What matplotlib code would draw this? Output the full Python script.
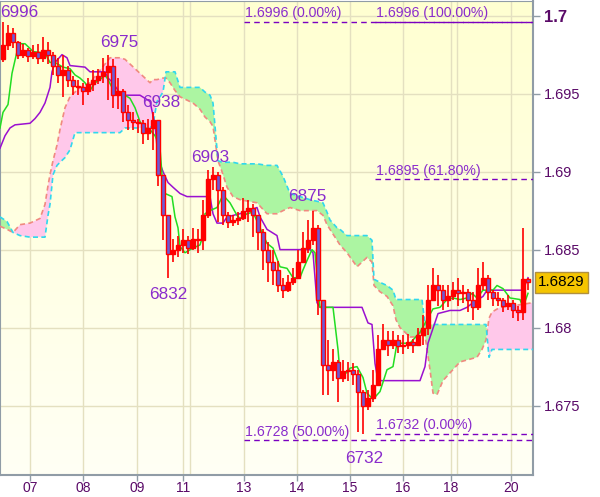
from matplotlib import pyplot as plt
from matplotlib import transforms
import numpy as np

# hourly candles, one slot every 5 px of the chart
first_open = 1.6972
closes = [1.6981, 1.6989, 1.6983, 1.6975, 1.6978, 1.6974, 1.6977, 1.6973, 1.6978, 1.6975,
	1.6968, 1.6962, 1.6965, 1.6959, 1.6955, 1.6954, 1.6952, 1.6956, 1.6959, 1.6961,
	1.6964, 1.6968, 1.6949, 1.6952, 1.6938, 1.6933, 1.6932, 1.6931, 1.6925, 1.6928,
	1.6933, 1.6898, 1.6872, 1.6847, 1.6850, 1.6853, 1.6856, 1.6851, 1.6857, 1.6856,
	1.6872, 1.6895, 1.6898, 1.6888, 1.6872, 1.6868, 1.6869, 1.6870, 1.6875, 1.6877,
	1.6872, 1.6861, 1.6850, 1.6842, 1.6837, 1.6827, 1.6824, 1.6829, 1.6832, 1.6842,
	1.6851, 1.6856, 1.6864, 1.6818, 1.6776, 1.6773, 1.6778, 1.6768, 1.6772, 1.6773,
	1.6770, 1.6759, 1.6750, 1.6755, 1.6763, 1.6786, 1.6792, 1.6789, 1.6792, 1.6788,
	1.6789, 1.6791, 1.6789, 1.6795, 1.6800, 1.6818, 1.6827, 1.6824, 1.6818, 1.6820,
	1.6824, 1.6822, 1.6823, 1.6818, 1.6813, 1.6827, 1.6832, 1.6823, 1.6819, 1.6818,
	1.6814, 1.6816, 1.6811, 1.6810, 1.6831, 1.6829]
highs = [1.6996, 1.6994, 1.6992, 1.6984, 1.6982, 1.6979, 1.6981, 1.6982, 1.6986, 1.6983,
	1.6977, 1.6973, 1.6975, 1.6968, 1.6961, 1.6959, 1.6957, 1.6960, 1.6965, 1.6966,
	1.6973, 1.6975, 1.6972, 1.6960, 1.6953, 1.6943, 1.6938, 1.6934, 1.6933, 1.6934,
	1.6938, 1.6933, 1.6898, 1.6872, 1.6857, 1.6859, 1.6863, 1.6859, 1.6864, 1.6863,
	1.6882, 1.6901, 1.6903, 1.6900, 1.6890, 1.6874, 1.6872, 1.6874, 1.6883, 1.6882,
	1.6879, 1.6872, 1.6863, 1.6855, 1.6850, 1.6843, 1.6832, 1.6834, 1.6838, 1.6850,
	1.6861, 1.6869, 1.6875, 1.6866, 1.6818, 1.6792, 1.6786, 1.6779, 1.6779, 1.6778,
	1.6777, 1.6773, 1.6760, 1.6760, 1.6773, 1.6795, 1.6802, 1.6798, 1.6798, 1.6795,
	1.6795, 1.6796, 1.6793, 1.6800, 1.6808, 1.6827, 1.6838, 1.6834, 1.6827, 1.6827,
	1.6829, 1.6832, 1.6827, 1.6825, 1.6823, 1.6838, 1.6842, 1.6834, 1.6824, 1.6823,
	1.6819, 1.6821, 1.6818, 1.6814, 1.6864, 1.6832]
lows = [1.6970, 1.6978, 1.6979, 1.6972, 1.6973, 1.6970, 1.6972, 1.6969, 1.6970, 1.6969,
	1.6962, 1.6957, 1.6948, 1.6954, 1.6949, 1.6949, 1.6943, 1.6949, 1.6952, 1.6956,
	1.6957, 1.6946, 1.6941, 1.6940, 1.6932, 1.6927, 1.6927, 1.6925, 1.6918, 1.6920,
	1.6914, 1.6891, 1.6856, 1.6832, 1.6842, 1.6845, 1.6848, 1.6847, 1.6850, 1.6848,
	1.6850, 1.6870, 1.6888, 1.6868, 1.6866, 1.6864, 1.6865, 1.6866, 1.6869, 1.6868,
	1.6858, 1.6850, 1.6837, 1.6829, 1.6827, 1.6823, 1.6819, 1.6823, 1.6827, 1.6831,
	1.6842, 1.6848, 1.6853, 1.6808, 1.6757, 1.6757, 1.6766, 1.6752, 1.6765, 1.6766,
	1.6763, 1.6733, 1.6732, 1.6747, 1.6752, 1.6763, 1.6786, 1.6782, 1.6786, 1.6784,
	1.6783, 1.6786, 1.6784, 1.6789, 1.6789, 1.6795, 1.6818, 1.6814, 1.6811, 1.6813,
	1.6818, 1.6814, 1.6816, 1.6810, 1.6805, 1.6811, 1.6824, 1.6818, 1.6814, 1.6814,
	1.6810, 1.6811, 1.6806, 1.6804, 1.6805, 1.6824]

# tenkan (green) and kijun (purple)
tenkan_x = [0, 3, 8, 12, 17, 20, 25, 30, 33, 45, 50, 55, 63, 70, 75, 80, 85, 90, 95, 100,
	105, 108, 112, 117, 125, 130, 135, 140, 145, 150, 155, 158, 160, 162, 165, 172, 175, 178, 180, 185,
	193, 200, 203, 205, 210, 217, 223, 230, 237, 240, 247, 253, 260, 267, 273, 280, 287, 293, 300, 303,
	307, 312, 315, 320, 333, 338, 340, 347, 350, 357, 363, 367, 373, 380, 387, 393, 397, 410, 420, 427,
	433, 440, 447, 453, 460, 467, 472, 477, 483, 493, 497, 503, 510, 520, 523, 528]
tenkan = [1.6928, 1.6938, 1.6943, 1.6963, 1.6977, 1.6982, 1.6982, 1.6979, 1.6977, 1.6976,
	1.6970, 1.6970, 1.6967, 1.6966, 1.6962, 1.6960, 1.6957, 1.6952, 1.6957, 1.6959,
	1.6962, 1.6959, 1.6954, 1.6951, 1.6949, 1.6947, 1.6941, 1.6932, 1.6928, 1.6927,
	1.6923, 1.6919, 1.6915, 1.6898, 1.6886, 1.6884, 1.6871, 1.6864, 1.6852, 1.6848,
	1.6851, 1.6853, 1.6859, 1.6873, 1.6875, 1.6877, 1.6885, 1.6880, 1.6872, 1.6870,
	1.6873, 1.6874, 1.6864, 1.6854, 1.6851, 1.6839, 1.6838, 1.6832, 1.6832, 1.6837,
	1.6843, 1.6850, 1.6848, 1.6813, 1.6813, 1.6786, 1.6771, 1.6771, 1.6774, 1.6775,
	1.6768, 1.6758, 1.6754, 1.6759, 1.6773, 1.6775, 1.6790, 1.6790, 1.6797, 1.6805,
	1.6812, 1.6813, 1.6818, 1.6819, 1.6818, 1.6819, 1.6822, 1.6819, 1.6824, 1.6824,
	1.6827, 1.6825, 1.6819, 1.6818, 1.6813, 1.6822]
kijun_x = [0, 5, 10, 15, 30, 35, 40, 45, 50, 52, 55, 62, 67, 70, 85, 90, 105, 108, 113, 120,
	125, 140, 145, 150, 155, 158, 163, 168, 173, 180, 187, 210, 213, 217, 223, 227, 240, 257, 260, 267,
	277, 280, 310, 313, 317, 320, 362, 368, 372, 375, 378, 420, 425, 428, 438, 450, 460, 467, 473, 483,
	487, 523, 528]
kijun = [1.6915, 1.6923, 1.6928, 1.6930, 1.6931, 1.6934, 1.6938, 1.6944, 1.6954, 1.6964,
	1.6970, 1.6975, 1.6973, 1.6968, 1.6967, 1.6964, 1.6964, 1.6960, 1.6957, 1.6950,
	1.6949, 1.6949, 1.6947, 1.6945, 1.6930, 1.6909, 1.6900, 1.6893, 1.6890, 1.6886,
	1.6884, 1.6884, 1.6873, 1.6867, 1.6867, 1.6871, 1.6873, 1.6877, 1.6871, 1.6863,
	1.6859, 1.6850, 1.6850, 1.6848, 1.6816, 1.6813, 1.6813, 1.6803, 1.6802, 1.6777,
	1.6766, 1.6766, 1.6775, 1.6790, 1.6809, 1.6811, 1.6811, 1.6813, 1.6816, 1.6820,
	1.6824, 1.6824, 1.6832]

# cloud: span a (cyan edge) and span b (salmon edge)
cloud_x = [0, 7, 13, 20, 30, 40, 45, 48, 50, 53, 57, 60, 65, 70, 75, 80, 90, 100, 110, 115,
	120, 125, 135, 145, 150, 153, 157, 163, 166, 170, 175, 180, 193, 200, 205, 210, 213, 218, 222, 227,
	233, 240, 257, 267, 277, 283, 290, 300, 310, 317, 323, 327, 330, 337, 340, 347, 357, 367, 372, 374,
	380, 387, 393, 396, 400, 410, 417, 422, 425, 430, 433, 437, 443, 450, 460, 477, 482, 486, 489, 492,
	500, 513, 533]
span_a = [1.6871, 1.6868, 1.6861, 1.6859, 1.6858, 1.6858, 1.6858, 1.6872, 1.6879, 1.6898,
	1.6904, 1.6906, 1.6909, 1.6914, 1.6925, 1.6925, 1.6925, 1.6925, 1.6925, 1.6925,
	1.6925, 1.6928, 1.6928, 1.6928, 1.6928, 1.6930, 1.6945, 1.6951, 1.6964, 1.6964,
	1.6964, 1.6954, 1.6954, 1.6954, 1.6951, 1.6949, 1.6944, 1.6907, 1.6906, 1.6906,
	1.6906, 1.6905, 1.6905, 1.6904, 1.6904, 1.6897, 1.6886, 1.6884, 1.6882, 1.6881,
	1.6880, 1.6874, 1.6869, 1.6864, 1.6863, 1.6859, 1.6859, 1.6859, 1.6856, 1.6831,
	1.6829, 1.6827, 1.6824, 1.6818, 1.6818, 1.6818, 1.6818, 1.6818, 1.6802, 1.6802,
	1.6802, 1.6802, 1.6802, 1.6802, 1.6802, 1.6802, 1.6802, 1.6802, 1.6781, 1.6786,
	1.6786, 1.6786, 1.6786]
span_b = [1.6865, 1.6863, 1.6861, 1.6866, 1.6867, 1.6870, 1.6879, 1.6891, 1.6898, 1.6907,
	1.6917, 1.6927, 1.6941, 1.6948, 1.6951, 1.6954, 1.6957, 1.6965, 1.6973, 1.6973,
	1.6973, 1.6972, 1.6966, 1.6960, 1.6957, 1.6959, 1.6959, 1.6960, 1.6960, 1.6957,
	1.6952, 1.6948, 1.6944, 1.6940, 1.6935, 1.6932, 1.6929, 1.6907, 1.6900, 1.6890,
	1.6884, 1.6882, 1.6880, 1.6873, 1.6873, 1.6875, 1.6877, 1.6875, 1.6875, 1.6875,
	1.6872, 1.6866, 1.6863, 1.6856, 1.6853, 1.6848, 1.6839, 1.6845, 1.6842, 1.6827,
	1.6823, 1.6820, 1.6814, 1.6805, 1.6800, 1.6794, 1.6794, 1.6798, 1.6795, 1.6773,
	1.6758, 1.6757, 1.6766, 1.6771, 1.6778, 1.6781, 1.6786, 1.6792, 1.6806, 1.6810,
	1.6813, 1.6814, 1.6816]

# fibonacci levels: (price, label, start slot)
fib_levels = [(1.6996, '1.6996 (0.00%)', 244), (1.6728, '1.6728 (50.00%)', 244),
	(1.6996, '1.6996 (100.00%)', 375), (1.6895, '1.6895 (61.80%)', 375), (1.6732, '1.6732 (0.00%)', 375)]

# zigzag pivots: (bar index, price, label, is_high)
pivots = [(0, 1.6996, '6996', True), (21, 1.6975, '6975', True), (30, 1.6938, '6938', True),
	(33, 1.6832, '6832', False), (42, 1.6903, '6903', True), (62, 1.6875, '6875', True),
	(72, 1.6732, '6732', False)]
pivot_offsets = [(12, 7), (8, 9), (6, 7), (0, -12), (-2, 7), (-4, 10), (1, -18)]

day_ticks = [30, 83, 137, 183, 244, 297, 350, 403, 451, 511]
day_labels = ['07', '08', '09', '11', '13', '14', '15', '16', '18', '20']
extra_grid = [190, 457]
price_ticks = [1.675, 1.68, 1.685, 1.69, 1.695, 1.7]
last_price = 1.6829

txt_col = '#5a0a68'
zz_col = '#8a2ccc'

fig = plt.figure(figsize=(6, 4.97), dpi=100)
ax = fig.add_axes([0.0, 22 / 497, 533 / 600, 474 / 497])
ymin, ymax = 1.67055, 1.70094

# soft yellow gradient background
grad = np.linspace(0, 1, 256)
bg = np.ones((256, 1, 3))
bg[:, 0, 2] = 0.96 - 0.14 * grad
ax.imshow(bg, extent=(0, 533, ymax, ymin), aspect='auto', zorder=0, origin='upper')
ax.set_xlim(0, 533)
ax.set_ylim(ymin, ymax)

for gx in day_ticks + extra_grid:
	ax.axvline(gx, color='#e4e0c0', lw=1, zorder=1)
for gy in price_ticks:
	ax.axhline(gy, color='#e4e0c0', lw=1, zorder=1)

# cloud
ca = np.array(span_a)
cb = np.array(span_b)
ax.fill_between(cloud_x, ca, cb, where=ca >= cb, interpolate=True, color='#acf5a2', lw=0, zorder=2)
ax.fill_between(cloud_x, ca, cb, where=ca < cb, interpolate=True, color='#ffc8ea', lw=0, zorder=2)
ax.plot(cloud_x, span_b, color='#f08a80', lw=1.2, ls=(0, (3, 2)), zorder=3)
ax.plot(cloud_x, span_a, color='#30d8ee', lw=1.2, ls=(0, (3, 2)), zorder=3)

# candles
n = len(closes)
bx = 3 + 5 * np.arange(n)
opens = [first_open] + closes[:-1]
ax.vlines(bx, lows, highs, color='#ff0000', lw=1.2, zorder=5)
for i in range(n):
	o, c = opens[i], closes[i]
	body = max(abs(c - o), 0.00004)
	fc = '#ff0000' if c >= o else '#6c5ad6'
	ax.bar(bx[i], body, bottom=min(o, c), width=3.6, color=fc, edgecolor='#ff0000', lw=1, zorder=6)

ax.plot(kijun_x, kijun, color='#9a10d0', lw=1.1, zorder=4)
ax.plot(tenkan_x, tenkan, color='#22dd22', lw=1.1, zorder=4)

# fibonacci lines
for price, label, x0 in fib_levels:
	ax.hlines(price, x0, 533, colors='#7a00c0', lw=1, linestyles=(0, (4, 3)), zorder=7)
	ax.text(x0 + 1, price + 0.00009, label, color='#8a2ccc', fontsize=10.2, family='Liberation Sans', va='bottom', ha='left', zorder=8)

# zigzag labels
for (bi, price, label, is_high), (dx, dy) in zip(pivots, pivot_offsets):
	ax.annotate(label, (bx[bi], price), xytext=(dx, dy), textcoords='offset points',
		ha='center', va='center', color=zz_col, fontsize=12.3, family='Liberation Sans', zorder=8)

# axes styling
for side in ['left', 'top', 'right', 'bottom']:
	ax.spines[side].set_color('#909ca6')
ax.spines['right'].set_linewidth(1.5)
ax.spines['bottom'].set_linewidth(1.5)
ax.yaxis.tick_right()
ax.set_yticks(price_ticks)
ax.set_yticklabels(['1.675', '1.68', '1.685', '1.69', '1.695', '1.7'])
ax.tick_params(axis='y', colors='#909ca6', labelcolor=txt_col, labelsize=10.5, length=5, width=1, pad=3)
for lab in ax.get_yticklabels():
	lab.set_family('Liberation Sans')
ax.get_yticklabels()[-1].set_fontweight('bold')
ax.get_yticklabels()[-1].set_fontsize(12)
ax.set_xticks(day_ticks)
ax.set_xticklabels(day_labels)
ax.tick_params(axis='x', colors='#909ca6', labelcolor=txt_col, labelsize=10, length=4, width=1, pad=0.5)
for lab in ax.get_xticklabels():
	lab.set_family('Liberation Sans')

# last price box
trans = transforms.blended_transform_factory(ax.transAxes, ax.transData)
ax.text(1.01, last_price, '%.4f' % last_price, transform=trans, ha='left', va='center',
	fontsize=11, family='Liberation Sans', color='black', zorder=9,
	bbox=dict(boxstyle='square,pad=0.22', fc='#f5c500', ec='#b09040', lw=1))

fig.savefig('out.png', dpi=100)
